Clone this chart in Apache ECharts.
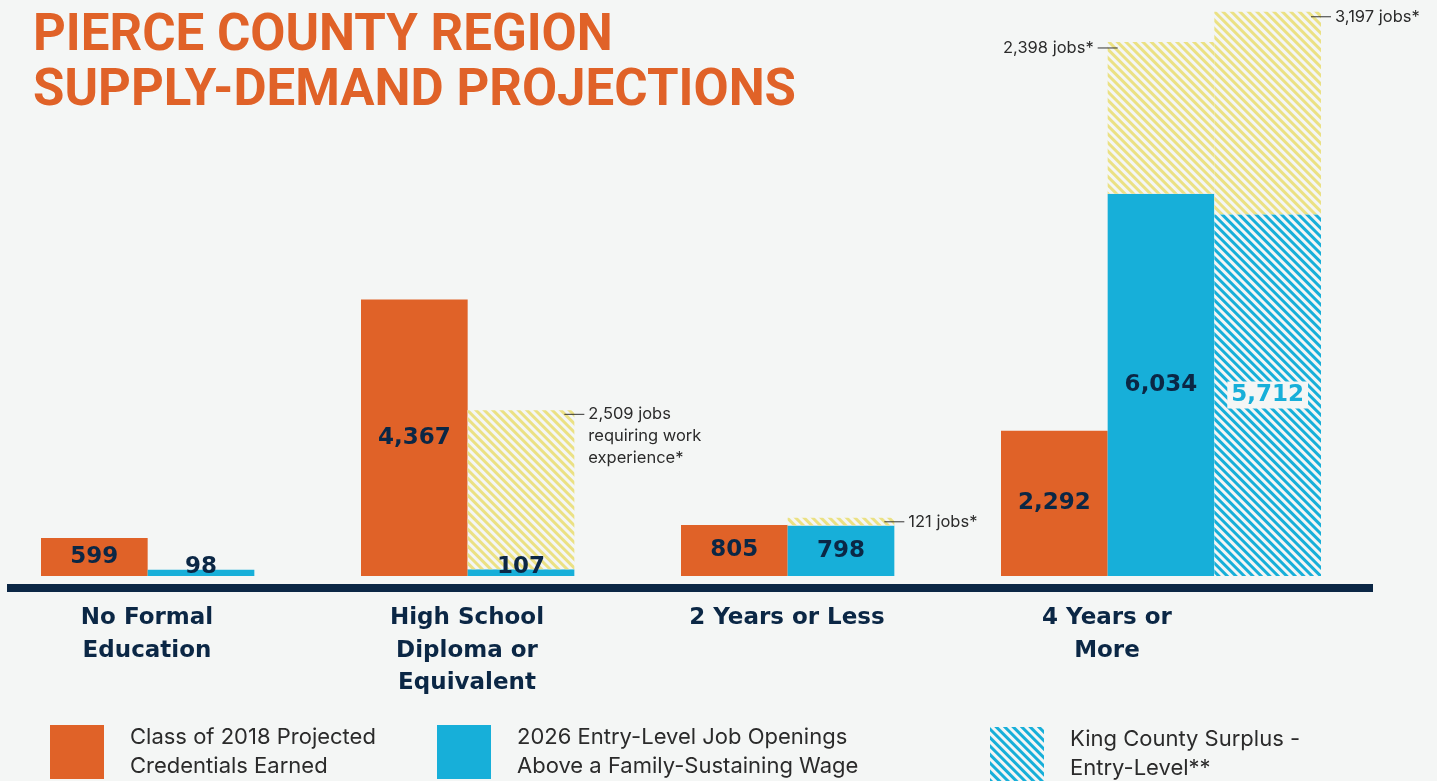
<!DOCTYPE html>
<html>
<head>
<meta charset="utf-8">
<script src="https://cdn.jsdelivr.net/npm/echarts@6/dist/echarts.min.js"></script>
<style>
  html, body { margin: 0; padding: 0; background: #f4f6f5; }
  #chart { width: 1437px; height: 781px; }
</style>
</head>
<body>
<div id="chart"></div>
<script>
const categories = ['No Formal\nEducation', 'High School\nDiploma or\nEquivalent', '2 Years or Less', '4 Years or\nMore']
const credentials = [599, 4367, 805, 2292]
const openings = [98, 107, 798, 6034]
const experienceJobs = [null, 2509, 121, 2398]
const kingSurplus = [null, null, null, 5712]
const kingExperience = [null, null, null, 3197]
const experienceNotes = ['', '2,509 jobs\nrequiring work\nexperience*', '121 jobs*', '2,398 jobs*']
const kingNotes = ['', '', '', '3,197 jobs*']

const names = {
  cred: 'Class of 2018 Projected Credentials Earned',
  open: '2026 Entry-Level Job Openings Above a Family-Sustaining Wage',
  king: 'King County Surplus - Entry-Level**',
}
const legendText = {
  [names.cred]: 'Class of 2018 Projected\nCredentials Earned',
  [names.open]: '2026 Entry-Level Job Openings\nAbove a Family-Sustaining Wage',
  [names.king]: 'King County Surplus -\nEntry-Level**',
}

const bg = '#f4f6f5'
const orange = '#e06228'
const blue = '#17afd9'
const navy = '#0b2745'
const yellow = '#ebe184'

const valueFont = { fontFamily: 'DejaVu Sans', fontWeight: 'bold', fontSize: 23, color: navy }
const fmt = v => Number(v).toLocaleString('en-US')

const stripes = c => ({
  symbol: 'rect',
  symbolSize: 1,
  color: c,
  dashArrayX: [1, 0],
  dashArrayY: [3, 3],
  rotation: Math.PI / 4,
})

const noteRich = {
  l: { width: 20, height: 1, backgroundColor: '#333' },
  s: { width: 4 },
  p: { width: 24 },
  t: { fontFamily: 'Inter', fontSize: 16.5, color: '#2b2b2b', lineHeight: 22 },
}
const noteRight = text => {
  const lines = text.split('\n')
  return lines.map((ln, i) => (i === 0 ? '{l| }{s| }' : '{p| }') + '{t|' + ln + '}').join('\n')
}

const chart = echarts.init(document.getElementById('chart'))

const legendBase = {
  orient: 'vertical',
  padding: 0,
  itemWidth: 54,
  itemHeight: 54,
  icon: 'rect',
  selectedMode: false,
  top: 723,
  textStyle: { fontFamily: 'Inter', fontSize: 22, color: '#2b2b2b', lineHeight: 29, padding: [0, 0, 0, 21] },
  formatter: name => legendText[name],
}

const option = {
  backgroundColor: bg,
  animation: false,
  title: {
    text: 'PIERCE COUNTY REGION\nSUPPLY-DEMAND PROJECTIONS',
    left: 33,
    top: 10,
    padding: 0,
    textStyle: { fontFamily: 'Roboto', fontWeight: 'bold', fontSize: 51, lineHeight: 55, color: orange },
  },
  legend: [
    { ...legendBase, left: 50, data: [names.cred] },
    { ...legendBase, left: 437, data: [names.open] },
    { ...legendBase, left: 990, top: 725, data: [names.king] },
  ],
  grid: { left: 41, right: 116, top: 6, bottom: 205 },
  xAxis: {
    type: 'category',
    data: categories,
    axisLine: { show: false },
    axisTick: { show: false },
    axisLabel: {
      interval: 0,
      margin: 26,
      lineHeight: 32.5,
      verticalAlign: 'top',
      padding: [0, 108, 0, 0],
      fontFamily: 'DejaVu Sans',
      fontWeight: 'bold',
      fontSize: 23,
      color: navy,
    },
  },
  yAxis: { type: 'value', min: 0, max: 9000, show: false, splitLine: { show: false } },
  graphic: [
    { type: 'rect', shape: { x: 7, y: 584, width: 1366, height: 8 }, style: { fill: navy } },
  ],
  series: [
    {
      name: names.cred,
      type: 'bar',
      barGap: '0%',
      barCategoryGap: '0%',
      itemStyle: { color: orange },
      label: { show: true, position: 'inside', ...valueFont, formatter: p => fmt(p.value) },
      data: credentials,
    },
    {
      name: names.open,
      type: 'bar',
      stack: 'demand',
      itemStyle: { color: blue },
      label: { show: true, position: 'inside', ...valueFont, formatter: p => fmt(p.value) },
      data: openings.map(v =>
        v < 300 ? { value: v, label: { position: 'insideBottom', distance: 0, offset: [0, 3] } } : v
      ),
    },
    {
      name: 'experience',
      type: 'bar',
      stack: 'demand',
      itemStyle: { color: bg, decal: stripes(yellow) },
      label: {
        show: true,
        position: ['100%', 0],
        align: 'left',
        verticalAlign: 'top',
        offset: [-10, -7],
        rich: noteRich,
        formatter: p => noteRight(experienceNotes[p.dataIndex]),
      },
      data: experienceJobs.map((v, i) =>
        i === 3
          ? {
              value: v,
              label: {
                position: [0, 0],
                align: 'right',
                offset: [10, -5],
                formatter: '{t|' + experienceNotes[3] + '}{s| }{l| }',
              },
            }
          : v
      ),
    },
    {
      name: names.king,
      type: 'bar',
      stack: 'king',
      itemStyle: { color: bg, decal: stripes(blue) },
      label: {
        show: true,
        position: 'inside',
        ...valueFont,
        color: blue,
        backgroundColor: bg,
        padding: [3, 4, 1, 4],
        formatter: p => fmt(p.value),
      },
      data: kingSurplus,
    },
    {
      name: 'king experience',
      type: 'bar',
      stack: 'king',
      itemStyle: { color: bg, decal: stripes(yellow) },
      label: {
        show: true,
        position: ['100%', 0],
        align: 'left',
        verticalAlign: 'top',
        offset: [-10, -6],
        rich: noteRich,
        formatter: p => noteRight(kingNotes[p.dataIndex]),
      },
      data: kingExperience,
    },
  ],
}

chart.setOption(option)
window.addEventListener('resize', () => chart.resize())
</script>
</body>
</html>
